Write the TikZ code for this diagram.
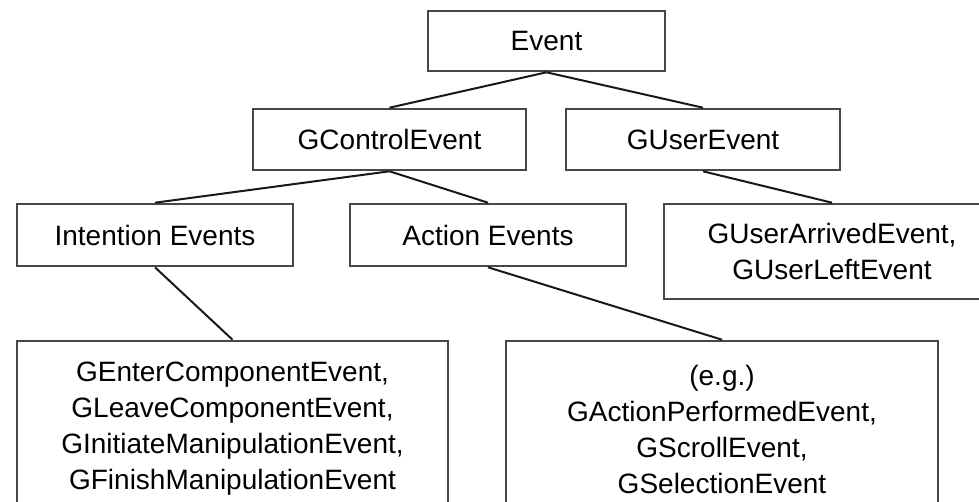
\documentclass[tikz,border=0pt]{standalone}
\usepackage{fontspec}
\setmainfont{Liberation Sans}
\begin{document}
\begin{tikzpicture}[x=1pt,y=-1pt,
  box/.style={draw=black!72,line width=2.6pt,inner sep=0pt,align=center,
    font=\fontsize{28}{36}\selectfont},
  link/.style={draw=black!90,line width=2pt}]
\useasboundingbox (0,0) rectangle (979,502);
\clip (0,0) rectangle (979,502);
% hierarchy boxes
\node[box,minimum width=237pt,minimum height=60pt] (ev) at (546.5,41) {Event};
\node[box,minimum width=273pt,minimum height=61pt] (gc) at (389.5,139.5) {GControlEvent};
\node[box,minimum width=274pt,minimum height=61pt] (gu) at (703,139.5) {GUserEvent};
\node[box,minimum width=276pt,minimum height=62pt] (ie) at (155,235) {Intention Events};
\node[box,minimum width=276pt,minimum height=62pt] (ae) at (488,235) {Action Events};
\node[box,minimum width=336pt,minimum height=95pt] (ua) at (832,251.5)
  {GUserArrivedEvent,\\GUserLeftEvent};
\node[box,minimum width=431pt,minimum height=176pt] (ge) at (232.5,429)
  {GEnterComponentEvent,\\GLeaveComponentEvent,\\GInitiateManipulationEvent,\\GFinishManipulationEvent};
\node[box,minimum width=432pt,minimum height=176pt] (eg) at (722,429)
  {(e.g.)\\GActionPerformedEvent,\\GScrollEvent,\\GSelectionEvent};
% connectors
\draw[link] (ev.south) -- (gc.north);
\draw[link] (ev.south) -- (gu.north);
\draw[link] (gc.south) -- (ie.north);
\draw[link] (gc.south) -- (ae.north);
\draw[link] (gu.south) -- (ua.north);
\draw[link] (ie.south) -- (ge.north);
\draw[link] (ae.south) -- (eg.north);
\end{tikzpicture}
\end{document}
